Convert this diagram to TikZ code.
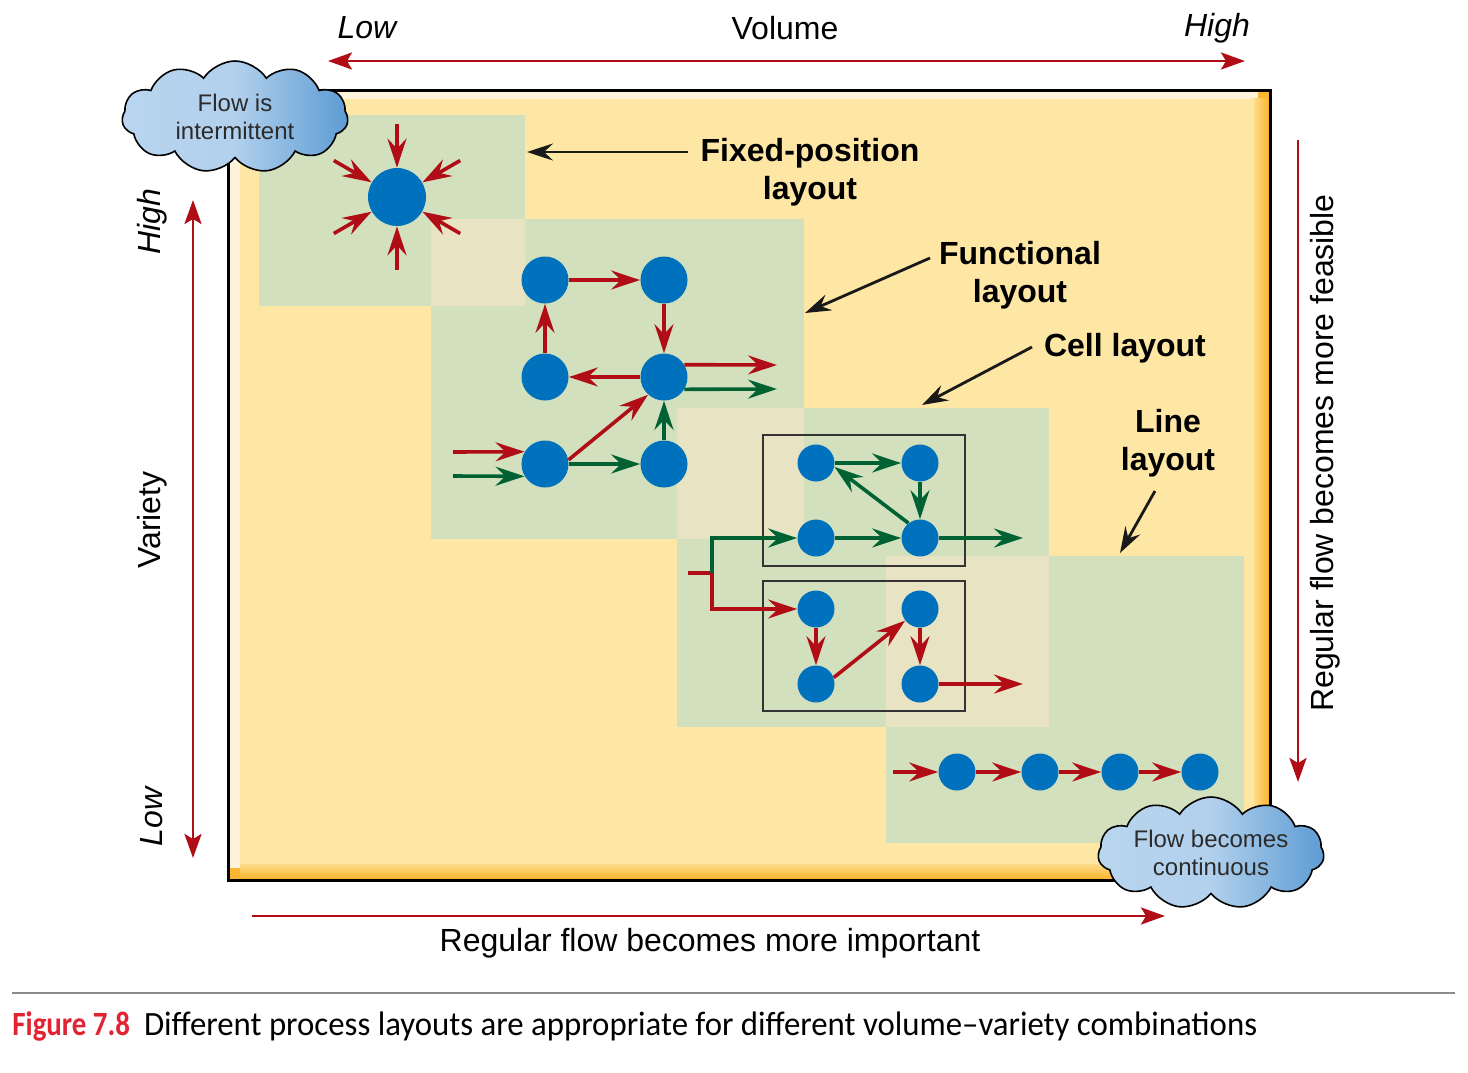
\documentclass[tikz,border=0pt]{standalone}
\usepackage{fontspec}
\setmainfont{Liberation Sans}
\newfontfamily\capfont[FakeStretch=0.85]{Carlito}
\newfontfamily\captextfont[FakeStretch=0.965]{Carlito}
\usetikzlibrary{arrows.meta,shapes.symbols,calc,positioning}
\definecolor{flowred}{HTML}{B00D17}
\definecolor{flowgreen}{HTML}{006232}
\definecolor{stationblue}{HTML}{0071BC}
\definecolor{boxyellow}{HTML}{FEE6A4}
\definecolor{boxorange}{HTML}{FBB731}
\definecolor{boxcream}{HTML}{FDF3DA}
\definecolor{zonegreen}{HTML}{D3E0BD}
\definecolor{zonebeige}{HTML}{E7E3C3}
\definecolor{cloudlt}{HTML}{B9D5EF}
\definecolor{clouddk}{HTML}{5C9BD3}
\definecolor{figred}{HTML}{E32232}
\definecolor{cloudtext}{HTML}{2B2B2B}
\tikzset{
  station/.style={circle, fill=stationblue, inner sep=0pt, minimum size=23.5pt},
  cellstation/.style={station, minimum size=18.5pt},
  fixedstation/.style={station, minimum size=29pt},
  redflow/.style={draw=flowred, line width=1.8pt, -{Stealth[length=14.5pt,width=9.5pt,inset=5pt]}},
  greenflow/.style={redflow, draw=flowgreen},
  axisarrow/.style={draw=flowred, line width=1.4pt, -{Stealth[length=12pt,width=8.5pt,inset=2.5pt]}},
  pointer/.style={draw=black!90, line width=1.4pt, -{Stealth[length=13pt,width=8.5pt,inset=4.5pt]}},
  layoutlabel/.style={align=center, font=\bfseries\fontsize{16}{19}\selectfont},
  axislabel/.style={font=\fontsize{16}{19}\selectfont},
  flowcloud/.style={cloud, cloud puffs=11, cloud puff arc=115, cloud ignores aspect, draw=black, line width=0.8pt,
    left color=cloudlt, right color=clouddk, middle color=cloudlt!92!clouddk,
    inner xsep=-5pt, inner ysep=-1pt,
    minimum width=113pt, minimum height=56pt, align=center, text=cloudtext,
    font=\fontsize{12}{14}\selectfont}
}
\begin{document}
\begin{tikzpicture}[x=0.5pt,y=-0.5pt]
\useasboundingbox (0,0) rectangle (1468,1072);
\fill[boxorange] (228,90) rectangle (1270,880);
\fill[boxcream] (228,90) rectangle (1258,868);
\shade[left color=boxyellow, right color=boxorange] (1250,98) rectangle (1268,878);
\shade[top color=boxyellow, bottom color=boxorange] (240,860) rectangle (1268,878);
\fill[boxyellow] (240,99) rectangle (1254,864);
\draw[line width=1.5pt] (228,90) rectangle (1270,880);
\fill[zonegreen] (259,115) rectangle (525,306);
\fill[zonegreen] (431,219) rectangle (804,539);
\fill[zonegreen] (677,408) rectangle (1049,727);
\fill[zonegreen] (886,556) rectangle (1244,843);
\fill[zonebeige] (431,219) rectangle (525,306);
\fill[zonebeige] (677,408) rectangle (804,539);
\fill[zonebeige] (886,556) rectangle (1049,727);
\node[fixedstation] (fixed) at (397,197) {};
\foreach \ang in {30,90,150,210,270,330}{
  \coordinate (fpin\ang) at ($(fixed)+(\ang:73)$);
  \draw[redflow] (fpin\ang) -- (fixed);
}
\node[station] (fa) at (545,280) {};
\node[station] (fb) at (664,280) {};
\node[station] (fc) at (545,377) {};
\node[station] (fd) at (664,377) {};
\node[station] (fe) at (545,464) {};
\node[station] (ff) at (664,464) {};
\coordinate (fredin) at (453,452);
\coordinate (fgreenin) at (453,476);
\coordinate (fredout) at (777,365);
\coordinate (fgreenout) at (777,389);
\draw[redflow] (fa) -- (fb);
\draw[redflow] (fb) -- (fd);
\draw[redflow] (fd) -- (fc);
\draw[redflow] (fc) -- (fa);
\draw[redflow] (fe.10) -- (fd.228);
\draw[greenflow] (fe) -- (ff);
\draw[greenflow] (ff) -- (fd);
\draw[redflow] (fredin) -- (fe.149);
\draw[greenflow] (fgreenin) -- (fe.211);
\draw[redflow] (fd.31) -- (fredout);
\draw[greenflow] (fd.-31) -- (fgreenout);
\draw[line width=1pt, draw=black!80] (763,435) rectangle (965,566);
\draw[line width=1pt, draw=black!80] (763,581) rectangle (965,711);
\node[cellstation] (cg) at (816,463) {};
\node[cellstation] (ch) at (920,463) {};
\node[cellstation] (ci) at (816,538) {};
\node[cellstation] (cj) at (920,538) {};
\node[cellstation] (ck) at (816,609) {};
\node[cellstation] (cl) at (920,609) {};
\node[cellstation] (cm) at (816,684) {};
\node[cellstation] (cn) at (920,684) {};
\coordinate (cellin) at (688,573);
\coordinate (cellsplit) at (712,573);
\coordinate (cellgreenout) at (1023,538);
\coordinate (cellredout) at (1023,684);
\draw[draw=flowred, line width=1.8pt] (cellin) -- (cellsplit);
\draw[greenflow] (cellsplit) |- (ci);
\draw[redflow] (cellsplit) |- (ck);
\draw[greenflow] (cg) -- (ch);
\draw[greenflow] (ch) -- (cj);
\draw[greenflow] (cj.128) -- (cg.-12);
\draw[greenflow] (ci) -- (cj);
\draw[greenflow] (cj) -- (cellgreenout);
\draw[redflow] (ck) -- (cm);
\draw[redflow] (cm.20) -- (cl.218);
\draw[redflow] (cl) -- (cn);
\draw[redflow] (cn) -- (cellredout);
\coordinate (linein) at (893,772);
\node[cellstation] (la) at (957,772) {};
\node[cellstation] (lb) at (1040,772) {};
\node[cellstation] (lc) at (1120,772) {};
\node[cellstation] (ld) at (1200,772) {};
\draw[redflow] (linein) -- (la);
\draw[redflow] (la) -- (lb);
\draw[redflow] (lb) -- (lc);
\draw[redflow] (lc) -- (ld);
\node[layoutlabel] (fixedlbl) at (810,172) {Fixed-position\\layout};
\node[layoutlabel] (funclbl) at (1020,275) {Functional\\layout};
\node[layoutlabel] (celllbl) at (1125,348) {Cell layout};
\node[layoutlabel] (linelbl) at (1168,443) {Line\\layout};
\coordinate (fixedtail) at (688,152);
\coordinate (fixedtip) at (527,152);
\coordinate (functail) at (930,258);
\coordinate (functip) at (805,313);
\coordinate (celltail) at (1032,347);
\coordinate (celltip) at (922,405);
\coordinate (linetail) at (1155,491);
\coordinate (linetip) at (1120,553);
\draw[pointer] (fixedtail) -- (fixedtip);
\draw[pointer] (functail) -- (functip);
\draw[pointer] (celltail) -- (celltip);
\draw[pointer] (linetail) -- (linetip);
\node[flowcloud] (startcloud) at (235,117) {Flow is\\intermittent};
\node[flowcloud] (endcloud) at (1211,853) {Flow becomes\\continuous};
\coordinate (vollow) at (328,61);
\coordinate (volhigh) at (1245,61);
\draw[axisarrow, {Stealth[length=12pt,width=8.5pt,inset=2.5pt]}-{Stealth[length=12pt,width=8.5pt,inset=2.5pt]}] (vollow) -- (volhigh);
\node[axislabel, font=\itshape\fontsize{16}{19}\selectfont] (vollowlbl) at (367,28) {Low};
\node[axislabel] (vollbl) at (785,28) {Volume};
\node[axislabel, font=\itshape\fontsize{16}{19}\selectfont] (volhighlbl) at (1217,28) {High};
\coordinate (varhigh) at (193,200);
\coordinate (varlow) at (193,858);
\draw[axisarrow, {Stealth[length=12pt,width=8.5pt,inset=2.5pt]}-{Stealth[length=12pt,width=8.5pt,inset=2.5pt]}] (varhigh) -- (varlow);
\node[axislabel, rotate=90, font=\itshape\fontsize{16}{19}\selectfont] (varhighlbl) at (152,222) {High};
\node[axislabel, rotate=90] (varlbl) at (152,520) {Variety};
\node[axislabel, rotate=90, font=\itshape\fontsize{16}{19}\selectfont] (varlowlbl) at (152,817) {Low};
\coordinate (feastop) at (1298,140);
\coordinate (feasbot) at (1298,782);
\draw[axisarrow] (feastop) -- (feasbot);
\node[axislabel, rotate=90] (feaslbl) at (1325,453) {Regular flow becomes more feasible};
\coordinate (impleft) at (252,916);
\coordinate (impright) at (1165,916);
\draw[axisarrow] (impleft) -- (impright);
\node[axislabel] (implbl) at (710,943) {Regular flow becomes more important};
\coordinate (ruleleft) at (12,993);
\coordinate (ruleright) at (1455,993);
\draw[draw=black!45, line width=0.8pt] (ruleleft) -- (ruleright);
\node[anchor=west, inner sep=0pt, font=\captextfont\fontsize{17}{20}\selectfont] (caption) at (12,1026)
  {\textcolor{figred}{\capfont\bfseries Figure 7.8}\hspace{7pt}Different process layouts are appropriate for different volume–variety combinations};
\end{tikzpicture}
\end{document}
